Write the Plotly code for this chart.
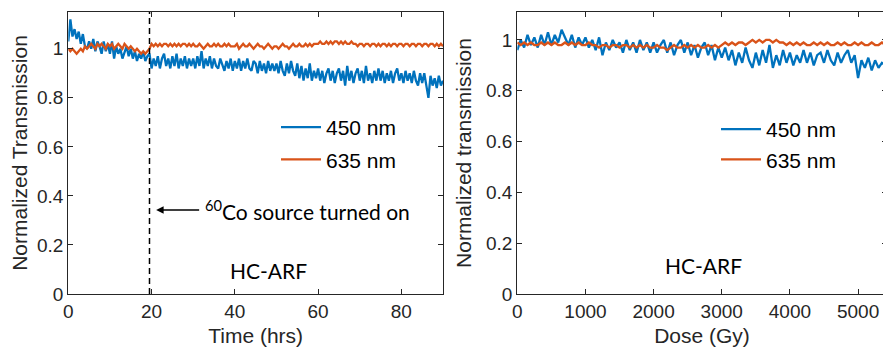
import plotly.graph_objects as go

# ---------------- data ----------------
time_hrs = [i * 0.5 for i in range(181)]
blue_time = [
    1.03, 1.12, 1.05, 1.08, 1.04, 1.07, 1.02, 1.06, 1.01, 1.00,
    1.03, 1.00, 1.04, 0.99, 1.03, 1.01, 0.98, 1.03, 0.99, 1.02,
    0.98, 1.03, 0.96, 1.01, 0.98, 1.00, 0.96, 0.99, 1.01, 0.97,
    1.00, 0.96, 0.99, 0.95, 0.98, 0.96, 0.99, 0.95, 0.97, 0.98,
    0.92, 0.96, 0.93, 0.97, 0.92, 0.96, 0.98, 0.93, 0.96, 0.92,
    0.97, 0.93, 0.98, 0.92, 0.96, 0.93, 0.97, 0.92, 0.96, 0.93,
    0.96, 0.92, 0.97, 0.93, 0.99, 0.92, 0.96, 0.93, 0.97, 0.92,
    0.96, 0.93, 0.92, 0.96, 0.93, 0.91, 0.95, 0.92, 0.96, 0.91,
    0.95, 0.92, 0.96, 0.91, 0.95, 0.92, 0.96, 0.92, 0.91, 0.95,
    0.94, 0.90, 0.95, 0.91, 0.94, 0.90, 0.95, 0.91, 0.94, 0.91,
    0.94, 0.90, 0.95, 0.91, 0.89, 0.94, 0.90, 0.95, 0.91, 0.89,
    0.94, 0.88, 0.93, 0.87, 0.92, 0.88, 0.94, 0.87, 0.91, 0.88,
    0.92, 0.87, 0.91, 0.86, 0.90, 0.92, 0.87, 0.91, 0.86, 0.90,
    0.92, 0.87, 0.91, 0.85, 0.93, 0.87, 0.91, 0.86, 0.90, 0.92,
    0.87, 0.91, 0.86, 0.93, 0.87, 0.90, 0.86, 0.91, 0.87, 0.92,
    0.87, 0.91, 0.86, 0.90, 0.87, 0.91, 0.86, 0.90, 0.92, 0.87,
    0.90, 0.86, 0.91, 0.87, 0.90, 0.86, 0.91, 0.87, 0.85, 0.90,
    0.86, 0.90, 0.85, 0.80, 0.89, 0.85, 0.88, 0.84, 0.89, 0.85,
    0.87,
]
orange_time = [
    1.00, 0.99, 1.00, 0.99, 0.98, 0.99, 1.00, 0.99, 1.01, 1.00,
    1.01, 1.02, 1.01, 1.00, 1.02, 1.01, 1.02, 1.01, 1.00, 1.02,
    1.01, 1.02, 1.00, 1.01, 1.02, 1.01, 1.00, 1.02, 1.01, 1.00,
    1.01, 1.00, 0.99, 1.00, 0.99, 0.98, 0.99, 0.98, 0.99, 1.00,
    1.02, 1.01, 1.02, 1.01, 1.02, 1.01, 1.02, 1.02, 1.01, 1.02,
    1.01, 1.02, 1.01, 1.02, 1.01, 1.02, 1.02, 1.01, 1.02, 1.01,
    1.02, 1.01, 1.01, 1.02, 1.01, 1.00, 1.01, 1.02, 1.01, 1.01,
    1.02, 1.01, 1.02, 1.01, 1.01, 1.02, 1.01, 1.02, 1.01, 1.01,
    1.01, 1.02, 1.00, 1.01, 1.02, 1.01, 1.01, 1.02, 1.01, 1.00,
    1.01, 1.02, 1.01, 1.01, 1.00, 1.01, 1.02, 1.01, 1.00, 1.01,
    1.01, 1.00, 1.01, 1.02, 1.01, 1.01, 1.00, 1.01, 1.02, 1.01,
    1.01, 1.02, 1.01, 1.01, 1.02, 1.01, 1.02, 1.01, 1.02, 1.02,
    1.02, 1.03, 1.02, 1.02, 1.03, 1.02, 1.03, 1.02, 1.03, 1.03,
    1.02, 1.03, 1.02, 1.03, 1.02, 1.02, 1.03, 1.02, 1.02, 1.01,
    1.02, 1.02, 1.01, 1.02, 1.02, 1.01, 1.02, 1.02, 1.01, 1.02,
    1.01, 1.02, 1.02, 1.01, 1.02, 1.01, 1.02, 1.02, 1.01, 1.02,
    1.02, 1.01, 1.02, 1.02, 1.01, 1.02, 1.02, 1.01, 1.02, 1.02,
    1.01, 1.02, 1.02, 1.01, 1.02, 1.02, 1.01, 1.02, 1.01, 1.02,
    1.01,
]
dose_gy = [i * 50 for i in range(109)]
blue_dose = [
    0.96, 1.00, 0.97, 1.02, 0.98, 1.01, 0.97, 1.02, 0.98, 1.03,
    0.98, 1.02, 0.99, 1.04, 1.01, 0.98, 1.02, 0.97, 1.01, 0.98,
    1.01, 0.97, 1.00, 0.96, 1.01, 0.94, 0.99, 0.96, 1.00, 0.97,
    0.99, 0.95, 1.00, 0.96, 0.99, 0.95, 1.00, 0.96, 0.99, 0.95,
    0.99, 0.95, 0.98, 1.00, 0.95, 0.99, 0.94, 0.98, 1.00, 0.95,
    0.99, 0.94, 0.98, 0.93, 0.97, 0.99, 0.94, 0.98, 0.92, 0.97,
    0.93, 0.97, 0.92, 0.96, 0.90, 0.95, 0.91, 0.97, 0.92, 0.89,
    0.95, 0.90, 0.96, 0.91, 0.98, 0.89, 0.94, 0.90, 0.96, 0.91,
    0.95, 0.90, 0.94, 0.91, 0.96, 0.91, 0.95, 0.90, 0.94, 0.95,
    0.91, 0.96, 0.92, 0.90, 0.95, 0.91, 0.94, 0.96, 0.91, 0.94,
    0.85, 0.92, 0.89, 0.93, 0.88, 0.92, 0.89, 0.91, 0.90,
]
orange_dose = [
    0.99, 0.98, 0.99, 0.98, 0.99, 0.98, 0.98, 0.99, 0.98, 0.99,
    0.98, 0.99, 0.98, 0.98, 0.99, 0.98, 0.99, 0.98, 0.99, 0.98,
    0.98, 0.99, 0.98, 0.98, 0.97, 0.98, 0.98, 0.97, 0.98, 0.98,
    0.97, 0.98, 0.98, 0.97, 0.98, 0.97, 0.98, 0.97, 0.98, 0.97,
    0.97, 0.98, 0.97, 0.97, 0.96, 0.97, 0.98, 0.97, 0.97, 0.98,
    0.97, 0.98, 0.97, 0.98, 0.97, 0.97, 0.98, 0.97, 0.98, 0.97,
    0.98, 0.99, 0.98, 0.99, 0.98, 0.99, 0.99, 0.98, 0.99, 1.00,
    0.99, 1.00, 0.99, 1.00, 1.00, 0.99, 1.00, 0.99, 0.99, 0.98,
    0.99, 0.98, 0.99, 0.98, 0.99, 0.98, 0.98, 0.99, 0.98, 0.99,
    0.98, 0.99, 0.98, 0.98, 0.99, 0.98, 0.99, 0.98, 0.98, 0.99,
    0.98, 0.99, 0.98, 0.98, 0.99, 0.98, 0.98, 0.99, 0.98,
]
source_on_hrs = 19.5
series_names = ["450 nm", "635 nm"]
y_tickvals = [0, 0.2, 0.4, 0.6, 0.8, 1]
y_ticktext = ["0", "0.2", "0.4", "0.6", "0.8", "1"]
time_tickvals = [0, 20, 40, 60, 80]
dose_tickvals = [0, 1000, 2000, 3000, 4000, 5000]

# ---------------- layout helpers ----------------
# the page body has an 8px margin, so the figure is drawn offset by 8px
OFF = 8
W, H = 891 - OFF, 355 - OFF


def px(x):
    return (x - OFF) / W


def py(y):
    return 1 - (y - OFF) / H


BLUE = "#0072BD"
ORANGE = "#D95319"
AX = "#262626"
TICK_FONT = dict(family="Liberation Sans, Arial", size=19, color=AX)
TITLE_FONT = dict(family="Liberation Sans, Arial", size=21, color=AX)
CAL_FONT = dict(family="Lato, Open Sans", size=21, color="black")
LEG_FONT = dict(family="Liberation Sans, Arial", size=21, color="black")

fig = go.Figure()
fig.add_trace(go.Scatter(x=time_hrs, y=blue_time, mode="lines", name=series_names[0],
                         line=dict(color=BLUE, width=2.3), xaxis="x", yaxis="y",
                         legend="legend", legendgroup="a"))
fig.add_trace(go.Scatter(x=time_hrs, y=orange_time, mode="lines", name=series_names[1],
                         line=dict(color=ORANGE, width=2.3), xaxis="x", yaxis="y",
                         legend="legend", legendgroup="b"))
fig.add_trace(go.Scatter(x=[source_on_hrs, source_on_hrs], y=[0, 1.15], mode="lines",
                         line=dict(color="black", width=1.5, dash="6px,4px"),
                         showlegend=False, xaxis="x", yaxis="y"))
fig.add_trace(go.Scatter(x=dose_gy, y=blue_dose, mode="lines", name=series_names[0],
                         line=dict(color=BLUE, width=2.3), xaxis="x2", yaxis="y2",
                         legend="legend2", legendgroup="c"))
fig.add_trace(go.Scatter(x=dose_gy, y=orange_dose, mode="lines", name=series_names[1],
                         line=dict(color=ORANGE, width=2.3), xaxis="x2", yaxis="y2",
                         legend="legend2", legendgroup="d"))

common_axis = dict(showline=True, linecolor=AX, linewidth=1.2, mirror="ticks",
                   ticks="inside", ticklen=5, tickcolor=AX, tickwidth=1,
                   showgrid=False, zeroline=False, tickfont=TICK_FONT,
                   automargin=False)

ydom = [py(294), py(12)]
fig.update_layout(
    width=W, height=H,
    margin=dict(l=0, r=0, t=0, b=0),
    paper_bgcolor="white", plot_bgcolor="white",
    xaxis=dict(domain=[px(68.3), px(443)], range=[0, 90], tickvals=time_tickvals,
               title=dict(text="Time (hrs)", font=TITLE_FONT, standoff=7),
               anchor="y", **common_axis),
    yaxis=dict(domain=ydom, range=[0, 1.15], tickvals=y_tickvals, ticktext=y_ticktext,
               title=dict(text="Normalized Transmission", font=TITLE_FONT, standoff=6),
               anchor="x", **common_axis),
    xaxis2=dict(domain=[px(517.3), px(886.7)], range=[0, 5420], tickvals=dose_tickvals,
                title=dict(text="Dose (Gy)", font=TITLE_FONT, standoff=7),
                anchor="y2", **common_axis),
    yaxis2=dict(domain=ydom, range=[0, 1.11], tickvals=y_tickvals, ticktext=y_ticktext,
                title=dict(text="Normalized transmission", font=TITLE_FONT, standoff=8),
                anchor="x2", **common_axis),
    legend=dict(x=px(276), y=py(107), xanchor="left", yanchor="top",
                bgcolor="rgba(0,0,0,0)", font=LEG_FONT,
                traceorder="grouped", tracegroupgap=2, itemwidth=40),
    legend2=dict(x=px(716), y=py(109), xanchor="left", yanchor="top",
                 bgcolor="rgba(0,0,0,0)", font=LEG_FONT,
                 traceorder="grouped", tracegroupgap=0, itemwidth=40),
    showlegend=True,
)

# annotation: arrow pointing at the dashed line, with its text
fig.add_annotation(x=source_on_hrs + 1.6, y=0.343, xref="x", yref="y",
                   ax=47, ay=0, axref="pixel", ayref="pixel",
                   xanchor="left", yanchor="middle",
                   showarrow=True, arrowhead=2, arrowsize=1, arrowwidth=1.5,
                   arrowcolor="black", startstandoff=4,
                   text="<sup>60</sup>Co source turned on", font=CAL_FONT)
fig.add_annotation(x=(269 - 68.3) / 375 * 90, y=0.094, xref="x", yref="y",
                   showarrow=False, text="HC-ARF", font=CAL_FONT)
fig.add_annotation(x=(703 - 517.3) / 369.4 * 5420, y=0.114, xref="x2", yref="y2",
                   showarrow=False, text="HC-ARF", font=CAL_FONT)

fig.write_html("out.html")
